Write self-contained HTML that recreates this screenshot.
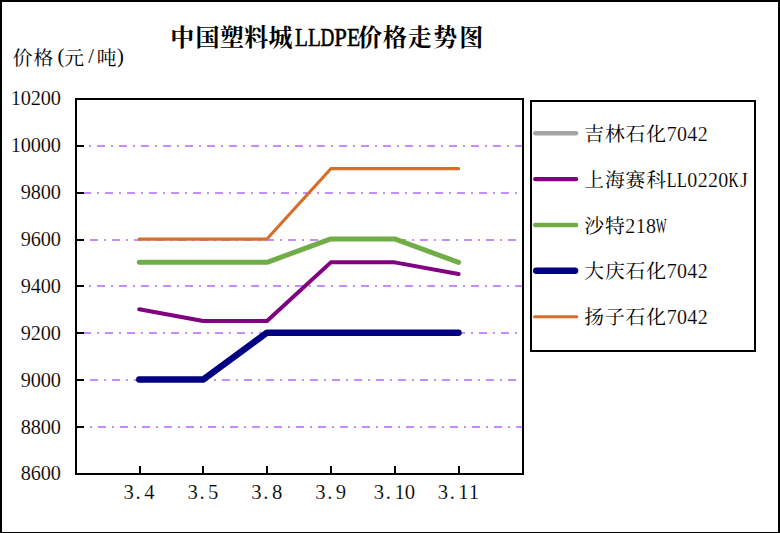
<!DOCTYPE html>
<html lang="zh"><head><meta charset="utf-8"><title>中国塑料城LLDPE价格走势图</title>
<style>html,body{margin:0;padding:0;background:#fff;overflow:hidden}svg{display:block}text{font-family:"Liberation Serif","Noto Serif CJK SC",serif;white-space:pre}</style></head>
<body>
<svg width="780" height="533" viewBox="0 0 780 533" font-family="'Liberation Serif', 'Noto Serif CJK SC', serif" fill="#000">
<rect x="0" y="0" width="780" height="533" fill="#fff"/>
<g fill="#000" shape-rendering="crispEdges"><rect x="0" y="0" width="780" height="2"/><rect x="0" y="0" width="2" height="533"/><rect x="778" y="0" width="2" height="533"/><rect x="0" y="532" width="780" height="1"/></g>
<g stroke="#c58cff" stroke-width="2" stroke-dasharray="8 6 2 6" shape-rendering="crispEdges"><line x1="77" y1="146" x2="522" y2="146" stroke-dashoffset="2"/><line x1="77" y1="193" x2="522" y2="193" stroke-dashoffset="16"/><line x1="77" y1="240" x2="522" y2="240" stroke-dashoffset="9"/><line x1="77" y1="286" x2="522" y2="286" stroke-dashoffset="2"/><line x1="77" y1="333" x2="522" y2="333" stroke-dashoffset="16"/><line x1="77" y1="380" x2="522" y2="380" stroke-dashoffset="9"/><line x1="77" y1="427" x2="522" y2="427" stroke-dashoffset="1"/></g>
<rect x="76" y="99" width="447" height="375" fill="none" stroke="#000" stroke-width="2" shape-rendering="crispEdges"/>
<g fill="#000" shape-rendering="crispEdges"><rect x="77" y="145" width="7" height="2"/><rect x="77" y="192" width="7" height="2"/><rect x="77" y="239" width="7" height="2"/><rect x="77" y="285" width="7" height="2"/><rect x="77" y="332" width="7" height="2"/><rect x="77" y="379" width="7" height="2"/><rect x="77" y="426" width="7" height="2"/><rect x="139" y="466" width="2" height="7"/><rect x="202" y="466" width="2" height="7"/><rect x="266" y="466" width="2" height="7"/><rect x="330" y="466" width="2" height="7"/><rect x="394" y="466" width="2" height="7"/><rect x="458" y="466" width="2" height="7"/></g>
<polyline points="139.26,309.24 203.11,320.96 266.97,320.96 330.83,262.36 394.69,262.36 458.54,274.08" fill="none" stroke="#800080" stroke-width="4" stroke-linecap="round" stroke-linejoin="round"/>
<polyline points="139.26,262.36 203.11,262.36 266.97,262.36 330.83,238.93 394.69,238.93 458.54,262.36" fill="none" stroke="#70ad47" stroke-width="5" stroke-linecap="round" stroke-linejoin="round"/>
<polyline points="139.26,379.55 203.11,379.55 266.97,332.68 330.83,332.68 394.69,332.68 458.54,332.68" fill="none" stroke="#000080" stroke-width="6.4" stroke-linecap="round" stroke-linejoin="round"/>
<polyline points="139.26,239.03 203.11,239.03 266.97,239.03 330.83,168.71 394.69,168.71 458.54,168.71" fill="none" stroke="#d46e2a" stroke-width="3.2" stroke-linecap="round" stroke-linejoin="round"/>
<rect x="531" y="101" width="224" height="250" fill="#fff" stroke="#000" stroke-width="2" shape-rendering="crispEdges"/>
<line x1="535.3" y1="133.3" x2="576" y2="133.3" stroke="#a5a5a5" stroke-width="4.6" stroke-linecap="round"/>
<line x1="535.1" y1="179.1" x2="576.2" y2="179.1" stroke="#800080" stroke-width="4.2" stroke-linecap="round"/>
<line x1="535.2" y1="225" x2="576.1" y2="225" stroke="#70ad47" stroke-width="4.4" stroke-linecap="round"/>
<line x1="536.15" y1="270.75" x2="575.15" y2="270.75" stroke="#000080" stroke-width="6.3" stroke-linecap="round"/>
<line x1="534.5" y1="316.7" x2="576.8" y2="316.7" stroke="#d46e2a" stroke-width="3.0" stroke-linecap="round"/>
<text x="584.23 604.9 625.57 646.24" y="140.8" font-size="19.8" fill="#000">吉林石化</text>
<text x="671.65 681.98 692.32 702.65" y="140.7" font-size="20" font-weight="normal" text-anchor="middle" stroke="#fff" stroke-width="0.15">7042</text>
<text x="584.23 604.9 625.57 646.24" y="186.6" font-size="19.8" fill="#000">上海赛科</text>
<text transform="translate(671.65 186.5) scale(0.8 1)" font-size="20" font-weight="normal" text-anchor="middle">L</text>
<text transform="translate(681.98 186.5) scale(0.8 1)" font-size="20" font-weight="normal" text-anchor="middle">L</text>
<text x="692.32" y="186.5" font-size="20" font-weight="normal" text-anchor="middle" stroke="#fff" stroke-width="0.15">0</text>
<text x="702.65" y="186.5" font-size="20" font-weight="normal" text-anchor="middle" stroke="#fff" stroke-width="0.15">2</text>
<text x="712.99" y="186.5" font-size="20" font-weight="normal" text-anchor="middle" stroke="#fff" stroke-width="0.15">2</text>
<text x="723.32" y="186.5" font-size="20" font-weight="normal" text-anchor="middle" stroke="#fff" stroke-width="0.15">0</text>
<text transform="translate(733.66 186.5) scale(0.7 1)" font-size="20" font-weight="normal" text-anchor="middle">K</text>
<text x="743.99" y="186.5" font-size="20" font-weight="normal" text-anchor="middle" stroke="#fff" stroke-width="0.15">J</text>
<text x="584.23 604.9" y="232.6" font-size="19.8" fill="#000">沙特</text>
<text x="630.31" y="232.5" font-size="20" font-weight="normal" text-anchor="middle" stroke="#fff" stroke-width="0.15">2</text>
<text x="640.64" y="232.5" font-size="20" font-weight="normal" text-anchor="middle" stroke="#fff" stroke-width="0.15">1</text>
<text x="650.98" y="232.5" font-size="20" font-weight="normal" text-anchor="middle" stroke="#fff" stroke-width="0.15">8</text>
<text transform="translate(661.31 232.5) scale(0.56 1)" font-size="20" font-weight="normal" text-anchor="middle">W</text>
<text x="584.23 604.9 625.57 646.24" y="278.2" font-size="19.8" fill="#000">大庆石化</text>
<text x="671.65 681.98 692.32 702.65" y="278.1" font-size="20" font-weight="normal" text-anchor="middle" stroke="#fff" stroke-width="0.15">7042</text>
<text x="584.23 604.9 625.57 646.24" y="324" font-size="19.8" fill="#000">扬子石化</text>
<text x="671.65 681.98 692.32 702.65" y="323.9" font-size="20" font-weight="normal" text-anchor="middle" stroke="#fff" stroke-width="0.15">7042</text>
<text x="15.9 25.9 35.9 45.9 55.9" y="105.4" font-size="20.3" font-weight="normal" text-anchor="middle" stroke="#fff" stroke-width="0.15">10200</text>
<text x="15.9 25.9 35.9 45.9 55.9" y="152.28" font-size="20.3" font-weight="normal" text-anchor="middle" stroke="#fff" stroke-width="0.15">10000</text>
<text x="25.9 35.9 45.9 55.9" y="199.15" font-size="20.3" font-weight="normal" text-anchor="middle" stroke="#fff" stroke-width="0.15">9800</text>
<text x="25.9 35.9 45.9 55.9" y="246.03" font-size="20.3" font-weight="normal" text-anchor="middle" stroke="#fff" stroke-width="0.15">9600</text>
<text x="25.9 35.9 45.9 55.9" y="292.9" font-size="20.3" font-weight="normal" text-anchor="middle" stroke="#fff" stroke-width="0.15">9400</text>
<text x="25.9 35.9 45.9 55.9" y="339.77" font-size="20.3" font-weight="normal" text-anchor="middle" stroke="#fff" stroke-width="0.15">9200</text>
<text x="25.9 35.9 45.9 55.9" y="386.65" font-size="20.3" font-weight="normal" text-anchor="middle" stroke="#fff" stroke-width="0.15">9000</text>
<text x="25.9 35.9 45.9 55.9" y="433.52" font-size="20.3" font-weight="normal" text-anchor="middle" stroke="#fff" stroke-width="0.15">8800</text>
<text x="25.9 35.9 45.9 55.9" y="480.4" font-size="20.3" font-weight="normal" text-anchor="middle" stroke="#fff" stroke-width="0.15">8600</text>
<text x="128.72" y="499" font-size="20.67" text-anchor="middle" stroke="#fff" stroke-width="0.15">3</text>
<text x="138.19" y="499" font-size="20.67" text-anchor="middle" stroke="#fff" stroke-width="0.15">.</text>
<text x="149.39" y="499" font-size="20.67" text-anchor="middle" stroke="#fff" stroke-width="0.15">4</text>
<text x="192.58" y="499" font-size="20.67" text-anchor="middle" stroke="#fff" stroke-width="0.15">3</text>
<text x="202.05" y="499" font-size="20.67" text-anchor="middle" stroke="#fff" stroke-width="0.15">.</text>
<text x="213.25" y="499" font-size="20.67" text-anchor="middle" stroke="#fff" stroke-width="0.15">5</text>
<text x="256.44" y="499" font-size="20.67" text-anchor="middle" stroke="#fff" stroke-width="0.15">3</text>
<text x="265.9" y="499" font-size="20.67" text-anchor="middle" stroke="#fff" stroke-width="0.15">.</text>
<text x="277.11" y="499" font-size="20.67" text-anchor="middle" stroke="#fff" stroke-width="0.15">8</text>
<text x="320.29" y="499" font-size="20.67" text-anchor="middle" stroke="#fff" stroke-width="0.15">3</text>
<text x="329.76" y="499" font-size="20.67" text-anchor="middle" stroke="#fff" stroke-width="0.15">.</text>
<text x="340.96" y="499" font-size="20.67" text-anchor="middle" stroke="#fff" stroke-width="0.15">9</text>
<text x="378.98" y="499" font-size="20.67" text-anchor="middle" stroke="#fff" stroke-width="0.15">3</text>
<text x="388.45" y="499" font-size="20.67" text-anchor="middle" stroke="#fff" stroke-width="0.15">.</text>
<text x="399.65" y="499" font-size="20.67" text-anchor="middle" stroke="#fff" stroke-width="0.15">1</text>
<text x="409.99" y="499" font-size="20.67" text-anchor="middle" stroke="#fff" stroke-width="0.15">0</text>
<text x="442.84" y="499" font-size="20.67" text-anchor="middle" stroke="#fff" stroke-width="0.15">3</text>
<text x="452.31" y="499" font-size="20.67" text-anchor="middle" stroke="#fff" stroke-width="0.15">.</text>
<text x="463.51" y="499" font-size="20.67" text-anchor="middle" stroke="#fff" stroke-width="0.15">1</text>
<text x="473.85" y="499" font-size="20.67" text-anchor="middle" stroke="#fff" stroke-width="0.15">1</text>
<text x="12.64 33.62" y="65.2" font-size="19.8" fill="#000">价格</text>
<text x="60.91" y="63.3" font-size="20.67" font-weight="normal" text-anchor="middle">(</text>
<text x="64.27" y="65.2" font-size="19.8" fill="#000">元</text>
<text x="91.1" y="63.3" font-size="20.67" font-weight="normal" text-anchor="middle">/</text>
<text x="96.73" y="65.2" font-size="19.8" fill="#000">吨</text>
<text x="120.42" y="63.3" font-size="20.67" font-weight="normal" text-anchor="middle">)</text>
<text x="170.21 195.44 219.98 244.31 268.55" y="45.8" font-size="24" font-weight="bold" fill="#000">中国塑料城</text>
<text transform="translate(301.5 45.8) scale(0.84 1)" font-size="25.2" font-weight="normal" text-anchor="middle" stroke="#000" stroke-width="0.55">L</text>
<text transform="translate(314.5 45.8) scale(0.84 1)" font-size="25.2" font-weight="normal" text-anchor="middle" stroke="#000" stroke-width="0.55">L</text>
<text transform="translate(327.5 45.8) scale(0.76 1)" font-size="25.2" font-weight="normal" text-anchor="middle" stroke="#000" stroke-width="0.55">D</text>
<text transform="translate(340.5 45.8) scale(0.9 1)" font-size="25.2" font-weight="normal" text-anchor="middle" stroke="#000" stroke-width="0.55">P</text>
<text transform="translate(353.5 45.8) scale(0.86 1)" font-size="25.2" font-weight="normal" text-anchor="middle" stroke="#000" stroke-width="0.55">E</text>
<text x="358.09 382.68 407.78 433.22 459.23" y="45.8" font-size="24" font-weight="bold" fill="#000">价格走势图</text>
</svg>
</body></html>
